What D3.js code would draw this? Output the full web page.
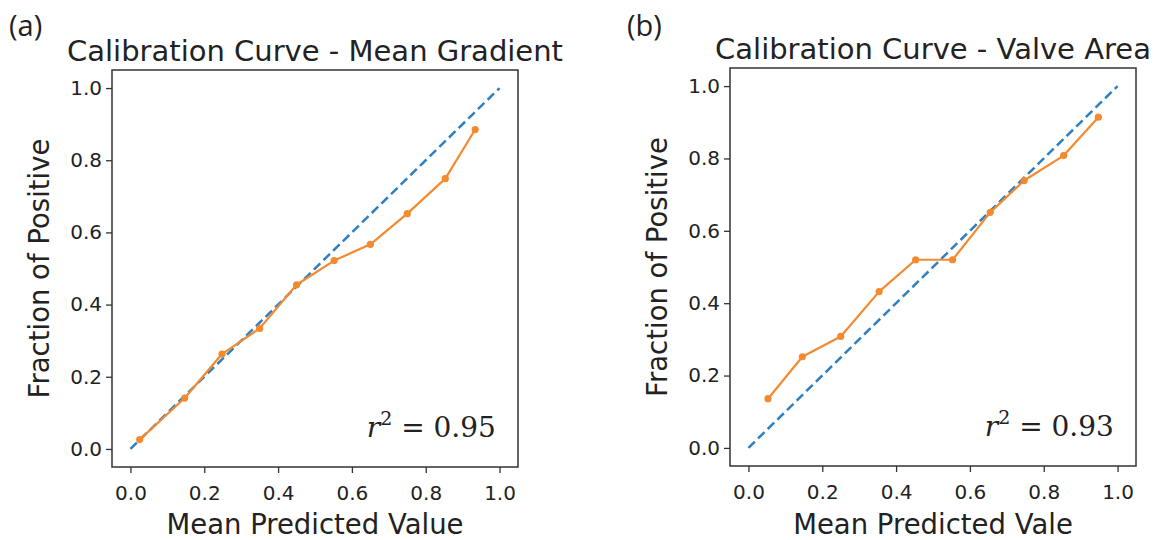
<!DOCTYPE html>
<html>
<head>
<meta charset="utf-8">
<script src="https://cdn.jsdelivr.net/npm/d3@7"></script>
<style>
  body { margin: 0; background: #fff; }
  text { fill: #222; }
</style>
</head>
<body>
<div id="chart"></div>
<script>
// tick values shared by both panels
var ticks = [0.0, 0.2, 0.4, 0.6, 0.8, 1.0];
var diagonal = [0, 1];

// (a) mean gradient calibration points
var gradientPred = [0.025, 0.147, 0.248, 0.350, 0.450, 0.552, 0.650, 0.750, 0.853, 0.934];
var gradientFrac = [0.026, 0.141, 0.263, 0.334, 0.455, 0.522, 0.567, 0.652, 0.749, 0.885];

// (b) valve area calibration points
var areaPred = [0.053, 0.146, 0.250, 0.354, 0.453, 0.553, 0.655, 0.747, 0.854, 0.948];
var areaFrac = [0.136, 0.252, 0.308, 0.432, 0.520, 0.520, 0.651, 0.739, 0.808, 0.914];

var panelTags = ["(a)", "(b)"];
var titles = ["Calibration Curve - Mean Gradient", "Calibration Curve - Valve Area"];
var xLabels = ["Mean Predicted Value", "Mean Predicted Vale"];
var yLabel = "Fraction of Positive";
var r2Values = ["0.95", "0.93"];

var svg = d3.select("#chart")
    .append("svg")
    .attr("width", 1160)
    .attr("height", 540);

function drawPanel(i, box, tagX, predVals, fracVals) {
    var x = d3.scaleLinear()
        .domain([-0.05, 1.05])
        .range([box.left, box.right]);
    var y = d3.scaleLinear()
        .domain([-0.05, 1.05])
        .range([box.bottom, box.top]);

    var g = svg.append("g");

    // x axis
    var xa = g.append("g")
        .attr("transform", "translate(0," + box.bottom + ")")
        .call(d3.axisBottom(x).tickValues(ticks).tickFormat(d3.format(".1f")).tickSize(6).tickPadding(13));
    xa.select(".domain").remove();

    // y axis
    var ya = g.append("g")
        .attr("transform", "translate(" + box.left + ",0)")
        .call(d3.axisLeft(y).tickValues(ticks).tickFormat(d3.format(".1f")).tickSize(6).tickPadding(4));
    ya.select(".domain").remove();

    g.selectAll(".tick line").attr("stroke", "#333").attr("stroke-width", 1.3);
    g.selectAll(".tick text")
        .attr("fill", "#222")
        .style("font-family", "DejaVu Sans")
        .style("font-size", "20px");

    // reference diagonal
    var diag = d3.line()
        .x(function(d) { return x(d); })
        .y(function(d) { return y(d); });
    g.append("path")
        .datum(diagonal)
        .attr("fill", "none")
        .attr("stroke", "#2f7fc1")
        .attr("stroke-width", 2.5)
        .attr("stroke-dasharray", "9,4.5")
        .attr("d", diag);

    // calibration curve
    var pts = predVals.map(function(p, k) { return {pred: p, frac: fracVals[k]}; });
    var line = d3.line()
        .x(function(d) { return x(d.pred); })
        .y(function(d) { return y(d.frac); });
    g.append("path")
        .datum(pts)
        .attr("fill", "none")
        .attr("stroke", "#f5892e")
        .attr("stroke-width", 2.2)
        .attr("stroke-linejoin", "round")
        .attr("d", line);
    g.selectAll(".pt")
        .data(pts)
        .enter().append("circle")
        .attr("cx", function(d) { return x(d.pred); })
        .attr("cy", function(d) { return y(d.frac); })
        .attr("r", 3.6)
        .attr("fill", "#f5892e");

    // frame
    g.append("rect")
        .attr("x", box.left)
        .attr("y", box.top)
        .attr("width", box.right - box.left)
        .attr("height", box.bottom - box.top)
        .attr("fill", "none")
        .attr("stroke", "#333")
        .attr("stroke-width", 1.5);

    // r^2 annotation
    var r2 = g.append("text")
        .attr("x", x(0.99))
        .attr("y", y(0.034))
        .attr("text-anchor", "end")
        .style("font-family", "DejaVu Serif")
        .style("font-size", "28px");
    r2.append("tspan").style("font-style", "italic").text("r");
    r2.append("tspan").attr("dy", -12).style("font-size", "19px").text("2");
    r2.append("tspan").attr("dy", 12).text(" = " + r2Values[i]);

    // title + labels
    var cx = (box.left + box.right) / 2;
    g.append("text")
        .attr("x", cx)
        .attr("y", box.top - 9)
        .attr("text-anchor", "middle")
        .style("font-family", "DejaVu Sans")
        .style("font-size", "29px")
        .text(titles[i]);

    g.append("text")
        .attr("x", cx)
        .attr("y", 534)
        .attr("text-anchor", "middle")
        .style("font-family", "DejaVu Sans")
        .style("font-size", "27.5px")
        .text(xLabels[i]);

    g.append("text")
        .attr("transform", "translate(" + (box.left - 63) + "," + ((box.top + box.bottom) / 2) + ") rotate(-90)")
        .attr("text-anchor", "middle")
        .style("font-family", "DejaVu Sans")
        .style("font-size", "27.5px")
        .text(yLabel);

    g.append("text")
        .attr("x", tagX)
        .attr("y", 36)
        .style("font-family", "Open Sans")
        .style("font-size", "29px")
        .text(panelTags[i]);
}

drawPanel(0, {left: 112, right: 518, top: 70, bottom: 467}, 9, gradientPred, gradientFrac);
drawPanel(1, {left: 730, right: 1136, top: 68, bottom: 466}, 627, areaPred, areaFrac);
</script>
</body>
</html>
